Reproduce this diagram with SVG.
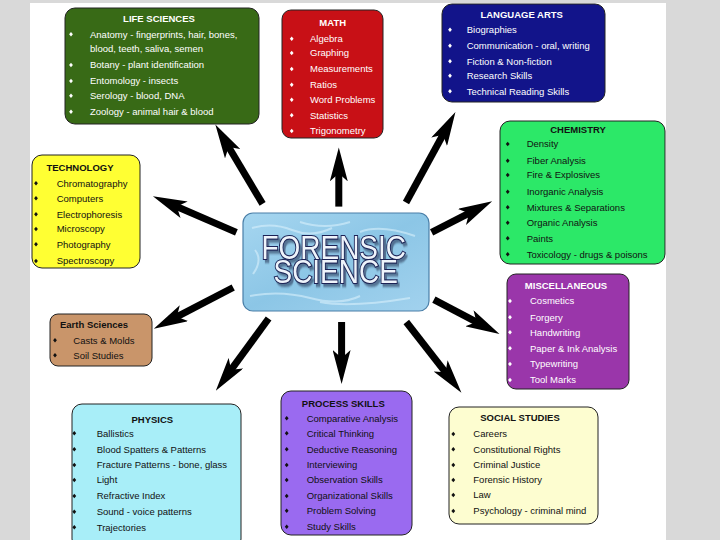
<svg xmlns="http://www.w3.org/2000/svg" xmlns:xlink="http://www.w3.org/1999/xlink" width="720" height="540" viewBox="0 0 720 540">
<style>
.box{stroke:#222;stroke-width:1}
text{font-family:"Liberation Sans",Arial,sans-serif;font-size:9.5px}
.t{font-weight:bold;text-anchor:middle}
.w{fill:#fff}
.k{fill:#111}
.arrow{stroke:#000;stroke-width:7;fill:none;marker-end:url(#ah)}
.big{font-family:"Liberation Sans",Arial,sans-serif;font-size:34px;fill:#eef4fb;stroke:#1c2456;stroke-width:2.2;paint-order:stroke}
</style>
<defs>
<marker id="ah" markerUnits="userSpaceOnUse" markerWidth="34" markerHeight="18" refX="12" refY="9" orient="auto" viewBox="0 0 34 18">
<path d="M0,0 L34,9 L0,18 L8,9 Z" fill="#000"/>
</marker>
<path id="bd" d="M0,-2.3 L1.9,0 L0,2.3 L-1.9,0 Z"/>
<linearGradient id="water" x1="0" y1="0" x2="1" y2="1">
<stop offset="0" stop-color="#a6d6f0"/>
<stop offset="0.5" stop-color="#8cc6e6"/>
<stop offset="1" stop-color="#a2d2ee"/>
</linearGradient>
<filter id="sh" x="-10%" y="-20%" width="130%" height="150%">
<feOffset in="SourceAlpha" dx="2.5" dy="2.5" result="o"/>
<feGaussianBlur in="o" stdDeviation="0.8" result="b"/>
<feFlood flood-color="#2a3a5a" flood-opacity="0.6"/>
<feComposite in2="b" operator="in" result="s"/>
<feMerge><feMergeNode in="s"/><feMergeNode in="SourceGraphic"/></feMerge>
</filter>
</defs>
<rect x="0" y="0" width="720" height="540" fill="#d9d9d9"/>
<rect x="30" y="3" width="636" height="537" fill="#ffffff"/>

<g id="connectors">
<line class="arrow" x1="262.6" y1="203.9" x2="226.6" y2="143.5"/>
<line class="arrow" x1="338.8" y1="206.6" x2="338.8" y2="169.4"/>
<line class="arrow" x1="406" y1="202.5" x2="444.9" y2="131.2"/>
<line class="arrow" x1="431.6" y1="232.4" x2="472.6" y2="211.4"/>
<line class="arrow" x1="236.4" y1="232.4" x2="173.1" y2="205"/>
<line class="arrow" x1="233.2" y1="287.5" x2="173.3" y2="318.7"/>
<line class="arrow" x1="268.6" y1="318.5" x2="228.8" y2="372.9"/>
<line class="arrow" x1="341.6" y1="322" x2="341.6" y2="362"/>
<line class="arrow" x1="406.3" y1="322" x2="447.9" y2="375.3"/>
<line class="arrow" x1="433.9" y1="299.6" x2="480.0" y2="323.8"/>
</g>

<g id="center">
<rect x="243" y="213" width="186" height="98" rx="10" fill="url(#water)" stroke="#4a7fa8" stroke-width="1.2"/>
<path d="M252,228 q20,-6 40,2 t40,-2 M300,222 q25,8 50,0 M360,232 q20,-8 55,4 M250,296 q30,-6 60,2 t50,-2 M320,302 q30,6 90,-4 M255,250 q8,10 -2,24" stroke="#d8f0fb" stroke-width="2" fill="none" opacity="0.6"/>
<text class="big" transform="scale(0.823,1)" filter="url(#sh)"><tspan x="317.7" y="259.5">FORENSIC</tspan><tspan x="332.3" y="283.5">SCIENCE</tspan></text>
</g>

<g id="life" class="w">
<rect class="box" x="65" y="8" width="194" height="116" rx="10" fill="#386a16"/>
<text class="t" x="159" y="21.7">LIFE SCIENCES</text>
<use xlink:href="#bd" x="71" y="34.3"/><text x="90" y="37.7">Anatomy - fingerprints, hair, bones,</text>
<text x="90" y="51.7">blood, teeth, saliva, semen</text>
<use xlink:href="#bd" x="71" y="65"/><text x="90" y="68.4">Botany - plant identification</text>
<use xlink:href="#bd" x="71" y="81"/><text x="90" y="84.4">Entomology - insects</text>
<use xlink:href="#bd" x="71" y="95.7"/><text x="90" y="99.1">Serology - blood, DNA</text>
<use xlink:href="#bd" x="71" y="111.7"/><text x="90" y="115.1">Zoology - animal hair &amp; blood</text>
</g>

<g id="math" class="w">
<rect class="box" x="282" y="10" width="101" height="128" rx="9" fill="#c81016"/>
<text class="t" x="332.7" y="26.4">MATH</text>
<use xlink:href="#bd" x="291.7" y="38.7"/><text x="310" y="42.1">Algebra</text>
<use xlink:href="#bd" x="291.7" y="53"/><text x="310" y="56.4">Graphing</text>
<use xlink:href="#bd" x="291.7" y="69"/><text x="310" y="72.4">Measurements</text>
<use xlink:href="#bd" x="291.7" y="84.7"/><text x="310" y="88.1">Ratios</text>
<use xlink:href="#bd" x="291.7" y="99.7"/><text x="310" y="103.1">Word Problems</text>
<use xlink:href="#bd" x="291.7" y="115.3"/><text x="310" y="118.7">Statistics</text>
<use xlink:href="#bd" x="291.7" y="131"/><text x="310" y="134.4">Trigonometry</text>
</g>

<g id="language" class="w">
<rect class="box" x="442" y="4" width="163" height="98" rx="10" fill="#12148a"/>
<text class="t" x="521.7" y="18.1">LANGUAGE ARTS</text>
<use xlink:href="#bd" x="450" y="29.7"/><text x="466.7" y="33.1">Biographies</text>
<use xlink:href="#bd" x="450" y="45.7"/><text x="466.7" y="49.1">Communication - oral, writing</text>
<use xlink:href="#bd" x="450" y="61.3"/><text x="466.7" y="64.7">Fiction &amp; Non-fiction</text>
<use xlink:href="#bd" x="450" y="75.7"/><text x="466.7" y="79.1">Research Skills</text>
<use xlink:href="#bd" x="450" y="91.3"/><text x="466.7" y="94.7">Technical Reading Skills</text>
</g>

<g id="chemistry" class="k">
<rect class="box" x="500" y="121" width="165" height="143" rx="10" fill="#2ce868"/>
<text class="t" x="578" y="132.7">CHEMISTRY</text>
<use xlink:href="#bd" x="507.7" y="144"/><text x="526.7" y="147.4">Density</text>
<use xlink:href="#bd" x="507.7" y="160.7"/><text x="526.7" y="164.1">Fiber Analysis</text>
<use xlink:href="#bd" x="507.7" y="175"/><text x="526.7" y="178.4">Fire &amp; Explosives</text>
<use xlink:href="#bd" x="507.7" y="191.7"/><text x="526.7" y="195.1">Inorganic Analysis</text>
<use xlink:href="#bd" x="507.7" y="207.3"/><text x="526.7" y="210.7">Mixtures &amp; Separations</text>
<use xlink:href="#bd" x="507.7" y="222.7"/><text x="526.7" y="226.1">Organic Analysis</text>
<use xlink:href="#bd" x="507.7" y="238.3"/><text x="526.7" y="241.7">Paints</text>
<use xlink:href="#bd" x="507.7" y="254.3"/><text x="526.7" y="257.7">Toxicology - drugs &amp; poisons</text>
</g>

<g id="technology" class="k">
<rect class="box" x="32" y="155" width="108" height="113" rx="10" fill="#ffff33"/>
<text class="t" x="80" y="171.1">TECHNOLOGY</text>
<use xlink:href="#bd" x="36" y="183.3"/><text x="56.7" y="186.7">Chromatography</text>
<use xlink:href="#bd" x="36" y="198.3"/><text x="56.7" y="201.7">Computers</text>
<use xlink:href="#bd" x="36" y="214.3"/><text x="56.7" y="217.7">Electrophoresis</text>
<use xlink:href="#bd" x="36" y="229"/><text x="56.7" y="232.4">Microscopy</text>
<use xlink:href="#bd" x="36" y="244.3"/><text x="56.7" y="247.7">Photography</text>
<use xlink:href="#bd" x="36" y="261"/><text x="56.7" y="264.4">Spectroscopy</text>
</g>

<g id="earth" class="k">
<rect class="box" x="50" y="314" width="102" height="52" rx="8" fill="#c9956a"/>
<text x="60" y="328.1" font-weight="bold">Earth Sciences</text>
<use xlink:href="#bd" x="55" y="340.3"/><text x="73.3" y="343.7">Casts &amp; Molds</text>
<use xlink:href="#bd" x="55" y="355.3"/><text x="73.3" y="358.7">Soil Studies</text>
</g>

<g id="misc" class="w">
<rect class="box" x="507" y="274" width="122" height="115" rx="9" fill="#9a36aa"/>
<text class="t" x="566" y="289.1">MISCELLANEOUS</text>
<use xlink:href="#bd" x="510" y="301"/><text x="530" y="304.4">Cosmetics</text>
<use xlink:href="#bd" x="510" y="317.3"/><text x="530" y="320.7">Forgery</text>
<use xlink:href="#bd" x="510" y="332.3"/><text x="530" y="335.7">Handwriting</text>
<use xlink:href="#bd" x="510" y="348.3"/><text x="530" y="351.7">Paper &amp; Ink Analysis</text>
<use xlink:href="#bd" x="510" y="364"/><text x="530" y="367.4">Typewriting</text>
<use xlink:href="#bd" x="510" y="380"/><text x="530" y="383.4">Tool Marks</text>
</g>

<g id="physics" class="k">
<rect class="box" x="72" y="404" width="169" height="145" rx="10" fill="#a8eef8"/>
<text class="t" x="152.3" y="422.7">PHYSICS</text>
<use xlink:href="#bd" x="74.3" y="433.3"/><text x="96.7" y="436.7">Ballistics</text>
<use xlink:href="#bd" x="74.3" y="449.3"/><text x="96.7" y="452.7">Blood Spatters &amp; Patterns</text>
<use xlink:href="#bd" x="74.3" y="465"/><text x="96.7" y="468.4">Fracture Patterns - bone, glass</text>
<use xlink:href="#bd" x="74.3" y="480"/><text x="96.7" y="483.4">Light</text>
<use xlink:href="#bd" x="74.3" y="496"/><text x="96.7" y="499.4">Refractive Index</text>
<use xlink:href="#bd" x="74.3" y="511.7"/><text x="96.7" y="515.1">Sound - voice patterns</text>
<use xlink:href="#bd" x="74.3" y="527.3"/><text x="96.7" y="530.7">Trajectories</text>
</g>

<g id="process" class="k">
<rect class="box" x="281" y="391" width="131" height="144" rx="10" fill="#9a6af0"/>
<text class="t" x="343.3" y="406.7">PROCESS SKILLS</text>
<use xlink:href="#bd" x="286.7" y="418.3"/><text x="306.7" y="421.7">Comparative Analysis</text>
<use xlink:href="#bd" x="286.7" y="433.3"/><text x="306.7" y="436.7">Critical Thinking</text>
<use xlink:href="#bd" x="286.7" y="449.3"/><text x="306.7" y="452.7">Deductive Reasoning</text>
<use xlink:href="#bd" x="286.7" y="465"/><text x="306.7" y="468.4">Interviewing</text>
<use xlink:href="#bd" x="286.7" y="480"/><text x="306.7" y="483.4">Observation Skills</text>
<use xlink:href="#bd" x="286.7" y="496"/><text x="306.7" y="499.4">Organizational Skills</text>
<use xlink:href="#bd" x="286.7" y="510.7"/><text x="306.7" y="514.1">Problem Solving</text>
<use xlink:href="#bd" x="286.7" y="526.7"/><text x="306.7" y="530.1">Study Skills</text>
</g>

<g id="social" class="k">
<rect class="box" x="449" y="407" width="149" height="117" rx="10" fill="#fdfdd0"/>
<text class="t" x="520" y="421.1">SOCIAL STUDIES</text>
<use xlink:href="#bd" x="453.3" y="434"/><text x="473.3" y="437.4">Careers</text>
<use xlink:href="#bd" x="453.3" y="449.3"/><text x="473.3" y="452.7">Constitutional Rights</text>
<use xlink:href="#bd" x="453.3" y="465"/><text x="473.3" y="468.4">Criminal Justice</text>
<use xlink:href="#bd" x="453.3" y="480"/><text x="473.3" y="483.4">Forensic History</text>
<use xlink:href="#bd" x="453.3" y="495"/><text x="473.3" y="498.4">Law</text>
<use xlink:href="#bd" x="453.3" y="511"/><text x="473.3" y="514.4">Psychology - criminal mind</text>
</g>
</svg>
